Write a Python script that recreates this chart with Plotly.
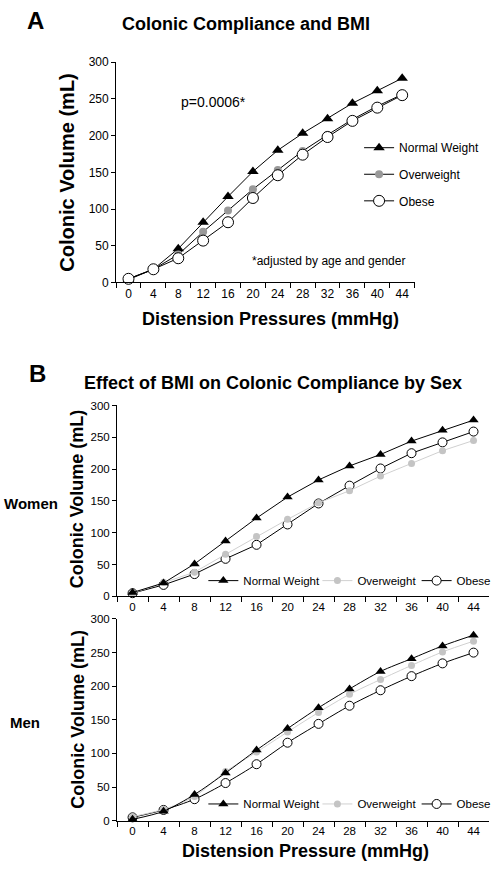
import plotly.graph_objects as go

# ---------------- data ----------------
pressures = ["0", "4", "8", "12", "16", "20", "24", "28", "32", "36", "40", "44"]
y_ticks = [0, 50, 100, 150, 200, 250, 300]

# Panel A: all subjects
a_normal = [4, 18, 46, 82, 117, 151, 180, 203, 223, 244, 261, 278]
a_over = [5, 18, 38, 69, 98, 127, 153, 179, 201, 222, 240, 256]
a_obese = [5, 18, 33, 57, 82, 115, 146, 174, 198, 220, 238, 255]

# Panel B: women
w_normal = [6, 21, 51, 87, 123, 156, 183, 205, 223, 244, 261, 277]
w_over = [5, 22, 38, 66, 94, 121, 147, 166, 189, 209, 229, 245]
w_obese = [5, 18, 35, 59, 81, 113, 146, 174, 201, 225, 242, 259]

# Panel B: men
m_normal = [2, 14, 39, 71, 105, 137, 168, 196, 222, 241, 260, 276]
m_over = [6, 17, 36, 73, 102, 132, 161, 188, 210, 231, 251, 267]
m_obese = [5, 16, 32, 56, 84, 116, 144, 171, 194, 215, 234, 250]

W, H = 496, 870
FONT = "Liberation Sans, Arial, sans-serif"


def px(v):
    return v / W


def py(v):
    return 1 - v / H


fig = go.Figure()

# ---------- Panel A traces ----------
fig.add_trace(go.Scatter(x=pressures, y=a_normal, name="Normal Weight", mode="lines+markers",
                         line=dict(color="black", width=1),
                         marker=dict(symbol="triangle-up", size=10, color="black"),
                         xaxis="x", yaxis="y", legend="legend", cliponaxis=False))
fig.add_trace(go.Scatter(x=pressures, y=a_over, name="Overweight", mode="lines+markers",
                         line=dict(color="black", width=1),
                         marker=dict(symbol="circle", size=8, color="#999999"),
                         xaxis="x", yaxis="y", legend="legend2", cliponaxis=False))
fig.add_trace(go.Scatter(x=pressures, y=a_obese, name="Obese", mode="lines+markers",
                         line=dict(color="black", width=1),
                         marker=dict(symbol="circle", size=11, color="white",
                                     line=dict(color="black", width=1)),
                         xaxis="x", yaxis="y", legend="legend3", cliponaxis=False))


def add_b(xa, ya, normal, over, obese, legs, shape):
    fig.add_trace(go.Scatter(x=pressures, y=obese, name="Obese", mode="lines+markers",
                             line=dict(color="black", width=1, shape=shape, smoothing=0.8),
                             marker=dict(symbol="circle", size=9, color="white",
                                         line=dict(color="black", width=1)),
                             xaxis=xa, yaxis=ya, legend=legs[2], cliponaxis=False))
    fig.add_trace(go.Scatter(x=pressures, y=over, name="Overweight", mode="lines+markers",
                             line=dict(color="#d0d0d0", width=1, shape=shape, smoothing=0.8),
                             marker=dict(symbol="circle", size=7, color="#c4c4c4"),
                             xaxis=xa, yaxis=ya, legend=legs[1], cliponaxis=False))
    fig.add_trace(go.Scatter(x=pressures, y=normal, name="Normal Weight", mode="lines+markers",
                             line=dict(color="black", width=1, shape=shape, smoothing=0.8),
                             marker=dict(symbol="triangle-up", size=9, color="black"),
                             xaxis=xa, yaxis=ya, legend=legs[0], cliponaxis=False))


add_b("x2", "y2", w_normal, w_over, w_obese, ["legend4", "legend5", "legend6"], "linear")
add_b("x3", "y3", m_normal, m_over, m_obese, ["legend7", "legend8", "legend9"], "spline")


def xax(domain, anchor, fs):
    return dict(domain=domain, anchor=anchor, type="category", categoryorder="array",
                categoryarray=pressures, range=[-0.5, 11.5], tickson="boundaries",
                ticks="outside", ticklen=5, tickcolor="black", tickwidth=1,
                showline=True, linecolor="black", linewidth=1, showgrid=False,
                zeroline=False, tickfont=dict(size=fs, color="black", family=FONT))


def yax(domain, anchor, fs):
    return dict(domain=domain, anchor=anchor, range=[0, 300], tickvals=y_ticks,
                ticks="outside", ticklen=4, tickcolor="black", tickwidth=1,
                showline=True, linecolor="black", linewidth=1, showgrid=False,
                zeroline=False, tickfont=dict(size=fs, color="black", family=FONT))


def leg(xp, yp, fs=12):
    return dict(x=px(xp), y=py(yp), xanchor="left", yanchor="middle",
                bgcolor="rgba(0,0,0,0)", borderwidth=0,
                font=dict(size=fs, color="black", family=FONT))


annotations = []


def ann(text, x, y, size, bold=False, angle=0, xanchor="center"):
    annotations.append(dict(text=("<b>%s</b>" % text) if bold else text,
                            x=px(x), y=py(y), xref="paper", yref="paper",
                            xanchor=xanchor, yanchor="middle", showarrow=False,
                            textangle=angle,
                            font=dict(size=size, color="black", family=FONT)))


ann("A", 25, 14, 24, bold=True, xanchor="left")
ann("Colonic Compliance and BMI", 248, 17, 18, bold=True)
ann("Colonic Volume (mL)", 68, 168, 20, bold=True, angle=-90)
ann("Distension Pressures (mmHg)", 273, 317, 18, bold=True)
ann("p=0.0006*", 215, 97, 14)
ann("*adjusted by age and gender", 331, 258, 12)

ann("B", 27, 373, 24, bold=True, xanchor="left")
ann("Effect of BMI on Colonic Compliance by Sex", 275, 382, 18, bold=True)
ann("Women", 31, 505, 15, bold=True)
ann("Men", 25, 727, 15, bold=True)
ann("Colonic Volume (mL)", 78, 500, 18, bold=True, angle=-90)
ann("Colonic Volume (mL)", 79, 724, 18, bold=True, angle=-90)
ann("Distension Pressure (mmHg)", 308, 858, 18, bold=True)

fig.update_layout(
    width=W, height=H,
    margin=dict(l=0, r=0, t=0, b=0),
    paper_bgcolor="white", plot_bgcolor="white",
    font=dict(family=FONT, color="black"),
    showlegend=True,
    xaxis=xax([px(117), px(418)], "y", 12),
    yaxis=yax([py(280), py(56)], "x", 12),
    xaxis2=xax([px(118), px(493)], "y2", 11.5),
    yaxis2=yax([py(599), py(405)], "x2", 11.5),
    xaxis3=xax([px(118), px(493)], "y3", 11.5),
    yaxis3=yax([py(827), py(622)], "x3", 11.5),
    legend=leg(362, 143),
    legend2=leg(362, 170),
    legend3=leg(362, 197),
    legend4=leg(205, 583, 11.5),
    legend5=leg(320, 583, 11.5),
    legend6=leg(420, 583, 11.5),
    legend7=leg(205, 810, 11.5),
    legend8=leg(320, 810, 11.5),
    legend9=leg(420, 810, 11.5),
    annotations=annotations,
)

fig.write_html(
    "out.html",
    config={"displayModeBar": False},
    post_script="document.body.style.margin='0px';document.body.style.overflow='hidden';",
)
